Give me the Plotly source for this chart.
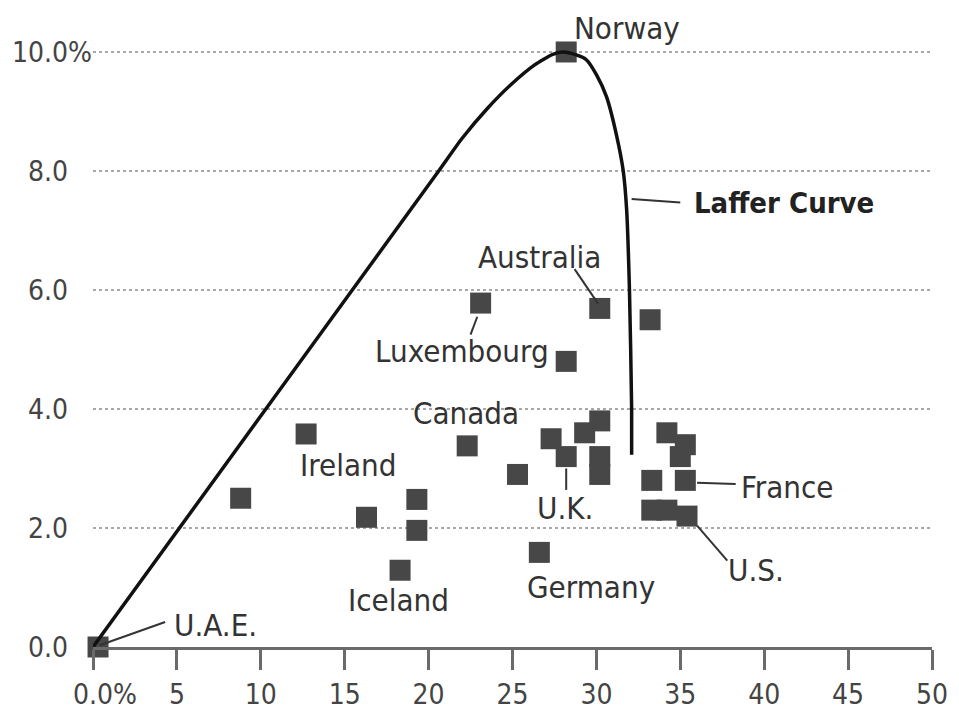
import plotly.graph_objects as go

# Country points: tax rate (x) vs revenue (y)
pt_x = [0.3, 8.8, 12.7, 16.3, 18.3, 19.3, 19.3, 22.3, 23.1, 25.3, 26.6, 27.3, 28.2, 28.2,
        28.2, 29.3, 30.2, 30.2, 30.2, 30.2, 33.2, 34.2, 35.3, 35.0, 33.3, 35.3, 33.3, 34.2, 35.4]
pt_y = [0.0, 2.5, 3.58, 2.18, 1.29, 2.48, 1.96, 3.38, 5.78, 2.9, 1.59, 3.5, 3.2, 4.8,
        10.0, 3.6, 3.8, 3.2, 2.9, 5.69, 5.5, 3.6, 3.4, 3.2, 2.8, 2.8, 2.3, 2.3, 2.2]

# Laffer curve
curve_x = [0, 10.3, 20.6, 22.0, 23.5, 24.9, 26.3, 27.4, 28.0, 28.8, 29.4, 30.0,
           30.6, 31.2, 31.6, 31.8, 31.97, 32.1, 32.1]
curve_y = [0, 4.0, 8.0, 8.55, 9.05, 9.45, 9.78, 9.96, 10.0, 9.95, 9.87, 9.62,
           9.25, 8.6, 8.0, 7.36, 6.0, 4.0, 3.23]

# Labels
lab_text = ["Norway", "Australia", "Luxembourg", "Canada", "Ireland", "Iceland", "U.A.E.",
            "U.K.", "Germany", "France", "U.S."]
lab_x = [31.8, 26.6, 22.0, 22.2, 15.2, 18.2, 7.3, 28.1, 29.7, 41.4, 39.5]
lab_y = [10.4, 6.55, 4.98, 3.93, 3.06, 0.79, 0.37, 2.34, 1.0, 2.69, 1.29]

# Leader lines (x0, y0, x1, y1)
lead = [(32.1, 7.53, 35.0, 7.47), (28.7, 6.35, 30.1, 5.77), (22.5, 5.25, 22.9, 5.55),
        (0.4, 0.03, 4.3, 0.42), (28.2, 3.0, 28.2, 2.64), (36.0, 2.76, 38.3, 2.74),
        (36.0, 2.04, 37.8, 1.45)]

HID = "<span style='color:rgba(0,0,0,0)'>%</span>"
x_ticks = [0, 5, 10, 15, 20, 25, 30, 35, 40, 45, 50]
x_ticktext = [HID + "0.0%", "5", "10", "15", "20", "25", "30", "35", "40", "45", "50"]
y_ticks = [0, 2, 4, 6, 8, 10]
y_ticktext = ["0.0" + HID, "2.0" + HID, "4.0" + HID, "6.0" + HID, "8.0" + HID, "10.0%"]

FONT = "DejaVu Sans Condensed, DejaVu Sans, sans-serif"
Y_MAX = 10.05

fig = go.Figure()
fig.add_trace(go.Scatter(x=pt_x, y=pt_y, mode="markers",
                         marker=dict(symbol="square", size=21, color="#474747"),
                         cliponaxis=False, hoverinfo="skip"))
fig.add_trace(go.Scatter(x=curve_x, y=curve_y, mode="lines",
                         line=dict(color="#111111", width=3.5, shape="spline", smoothing=0.6),
                         cliponaxis=False, hoverinfo="skip"))

for (x0, y0, x1, y1) in lead:
    fig.add_shape(type="line", x0=x0, y0=y0, x1=x1, y1=y1, xref="x", yref="y",
                  line=dict(color="#333333", width=2))

for t, x, y in zip(lab_text, lab_x, lab_y):
    # paper y reference so labels above the axis range stay visible
    fig.add_annotation(x=x, y=y / Y_MAX, text=t, showarrow=False, xref="x", yref="paper",
                       xanchor="center", yanchor="middle", borderpad=0,
                       font=dict(family=FONT, size=31, color="#333333"))
fig.add_annotation(x=41.2, y=7.47, text="<b>Laffer Curve</b>", showarrow=False,
                   xref="x", yref="y", xanchor="center", yanchor="middle",
                   font=dict(family=FONT, size=29, color="#222222"))

fig.update_layout(
    width=959, height=721,
    margin=dict(l=85, r=35, t=41, b=82),
    paper_bgcolor="white", plot_bgcolor="white",
    showlegend=False,
    font=dict(family=FONT, size=28, color="#444444"),
    xaxis=dict(range=[0, 50], tickvals=x_ticks, ticktext=x_ticktext,
               showgrid=False, zeroline=False, showline=True, linecolor="#6a6a6a",
               linewidth=3, ticks="outside", ticklen=20, tickwidth=3, tickcolor="#6a6a6a",
               automargin=False, fixedrange=True),
    yaxis=dict(range=[0, Y_MAX], tickvals=y_ticks, ticktext=y_ticktext,
               showgrid=True, gridcolor="#a8a8a8", griddash="dot", gridwidth=2,
               zeroline=False, showline=False, ticks="", ticklabelstandoff=0,
               automargin=False, fixedrange=True),
)

fig.write_html("out.html")
